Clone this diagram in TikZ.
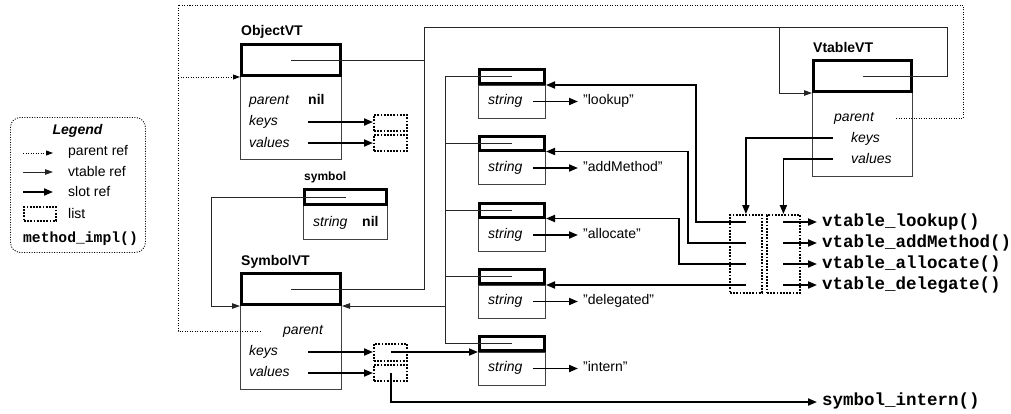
\documentclass[tikz,border=0pt]{standalone}
\usepackage{fontspec}
\setmainfont{Liberation Sans}
\setmonofont{Liberation Mono}
\usetikzlibrary{arrows.meta}
\begin{document}
\begin{tikzpicture}[x=1pt,y=-1pt,
  hdr/.style={draw, line width=3pt, anchor=north west, inner sep=0pt},
  bodybox/.style={draw=black!75, line width=0.9pt, anchor=north west, inner sep=0pt},
  lst/.style={draw, dash pattern=on 1.8pt off 1.4pt, line width=1.8pt, anchor=north west, inner sep=0pt},
  txt/.style={inner sep=0pt, anchor=base west, font=\fontsize{14}{16}\selectfont},
  itx/.style={txt, font=\fontsize{14}{16}\selectfont\itshape},
  bfx/.style={txt, font=\fontsize{14}{16}\selectfont\bfseries},
  mono/.style={inner sep=0pt, anchor=base west, font=\fontsize{17.5}{20}\selectfont\ttfamily\bfseries},
  pline/.style={line width=0.9pt, dash pattern=on 1pt off 1.5pt},
  pref/.style={pline, -{Triangle[length=7pt,width=5pt]}},
  vline/.style={line width=0.9pt, draw=black!85},
  vref/.style={vline, -{Triangle[length=8pt,width=5.5pt]}},
  sref/.style={line width=1.8pt, -{Triangle[length=9pt,width=7pt]}}
]
\useasboundingbox (0,0) rectangle (1011,413);

% ---------- Legend ----------
\node[draw, pline, rounded corners=10pt, anchor=north west, inner sep=0pt,
      minimum width=135, minimum height=135] (legend) at (10,117) {};
\node[inner sep=0pt, anchor=base, font=\fontsize{14}{16}\selectfont\bfseries\itshape] (lgt) at (77.5,134.5) {Legend};
\coordinate (lg1a) at (23,153); \coordinate (lg1b) at (53,153);
\coordinate (lg2a) at (23,172); \coordinate (lg2b) at (53,172);
\coordinate (lg3a) at (23,192); \coordinate (lg3b) at (53,192);
\draw[pref] (lg1a) -- (lg1b);
\draw[vref] (lg2a) -- (lg2b);
\draw[sref] (lg3a) -- (lg3b);
\node[lst, minimum width=32, minimum height=14] (lgl) at (23,206) {};
\node[txt] (lgp) at (68,155.5) {parent ref};
\node[txt] (lgv) at (68,176) {vtable ref};
\node[txt] (lgs) at (68,196) {slot ref};
\node[txt] (lgls) at (68,218.3) {list};
\node[inner sep=0pt, anchor=base, font=\fontsize{14.7}{16}\selectfont\ttfamily\bfseries] (lgm) at (80.5,242.5) {method\_impl()};

% ---------- ObjectVT ----------
\node[bfx] (ovt) at (241,35) {ObjectVT};
\node[bodybox, minimum width=101, minimum height=83] (ovb) at (240,76) {};
\node[hdr, minimum width=99, minimum height=31] (ovh) at (240,43) {};
\node[itx] (ovp) at (249,104.5) {parent};
\node[bfx] (ovn) at (308,104.5) {nil};
\node[itx] (ovk) at (249,125.5) {keys};
\node[itx] (ovv) at (249,147) {values};
\node[lst, minimum width=33, minimum height=16] (olk) at (373,114) {};
\node[lst, minimum width=33, minimum height=16] (olv) at (373,134) {};

% ---------- symbol ----------
\node[inner sep=0pt, anchor=base west, font=\fontsize{12}{14}\selectfont\bfseries] (yt) at (304,180.5) {symbol};
\node[bodybox, minimum width=84, minimum height=34] (yb) at (303,205) {};
\node[hdr, minimum width=82, minimum height=15] (yh) at (303,188) {};
\node[itx] (ys) at (313,226) {string};
\node[bfx] (yn) at (362,226) {nil};

% ---------- SymbolVT ----------
\node[bfx] (svt) at (241,265.5) {SymbolVT};
\node[bodybox, minimum width=101, minimum height=84] (svb) at (240,305) {};
\node[hdr, minimum width=99, minimum height=31] (svh) at (240,272) {};
\node[itx] (svp) at (283,334) {parent};
\node[itx] (svk) at (249,355) {keys};
\node[itx] (svv) at (249,376) {values};
\node[lst, minimum width=33, minimum height=17] (slk) at (373,343) {};
\node[lst, minimum width=33, minimum height=16] (slv) at (373,364) {};

% ---------- VtableVT ----------
\node[bfx] (vvt) at (813,52.5) {VtableVT};
\node[bodybox, minimum width=100, minimum height=84] (vvb) at (812,92) {};
\node[hdr, minimum width=98, minimum height=31] (vvh) at (812,59) {};
\node[itx] (vvp) at (834,121) {parent};
\node[itx] (vvk) at (851,142) {keys};
\node[itx] (vvv) at (851,163.5) {values};

% ---------- string objects ----------
\foreach \i/\t/\lbl in {1/68/lookup, 2/134.5/addMethod, 3/201.5/allocate, 4/268/delegated, 5/335/intern}{
  \node[bodybox, minimum width=67, minimum height=33] (sb\i) at (478,\t+16.5) {};
  \node[hdr, minimum width=65, minimum height=14] (sh\i) at (478,\t) {};
  \node[itx] (ss\i) at (488,\t+36.5) {string};
  \node[txt] (sq\i) at (583,\t+36.5) {"\lbl"};
  \coordinate (sa\i) at (533,\t+33.5);
  \draw[sref] (sa\i) -- (sa\i -| sq\i.west) [shorten >=5pt];
}

% ---------- vtable lists ----------
\node[lst, minimum width=32, minimum height=78] (vl) at (729,214) {};
\node[lst, minimum width=33, minimum height=78] (vr) at (766,214) {};

% ---------- method names ----------
\node[mono] (m1) at (822,226) {vtable\_lookup()};
\node[mono] (m2) at (822,247) {vtable\_addMethod()};
\node[mono] (m3) at (822,268) {vtable\_allocate()};
\node[mono] (m4) at (822,289) {vtable\_delegate()};
\node[mono] (mi) at (822,405.5) {symbol\_intern()};

% ---------- parent refs ----------
\coordinate (svpar) at (262,331);
\coordinate (vvpar) at (896,118);
\coordinate (ptop) at (178,5);
\draw[pline] (vvpar) -| (963,5) -| (178,331) -- (svpar);
\draw[pref] (ovh.south west -| ptop) -- (ovh.south west);

% ---------- vtable refs ----------
\coordinate (vbus) at (424,27);
\coordinate (vdrop) at (779,27);
\draw[vline] (vvh.center) -| (947,27) -| (424,289) -- (svh.center);
\draw[vline] (ovh.center) -- (ovh.center -| vbus);
\draw[vref] (vdrop) |- (vvh.south west);

\coordinate (sbus) at (445,306);
\foreach \i in {1,...,5}{ \draw[vline] (sh\i.center) -- (sh\i.center -| sbus); }
\draw[vline] (sh1.center -| sbus) -- (sh5.center -| sbus);
\draw[vref] (sbus) -- (svh.south east);
\coordinate (ybus) at (211,306);
\draw[vref] (yh.center) -| (ybus) -- (svh.south west);

% ---------- slot refs ----------
\coordinate (ok) at (308,122); \coordinate (ov) at (308,143);
\draw[sref] (ok) -- (ok -| olk.west);
\draw[sref] (ov) -- (ov -| olv.west);
\coordinate (sk) at (308,352); \coordinate (sv) at (308,373);
\draw[sref] (sk) -- (sk -| slk.west);
\draw[sref] (sv) -- (sv -| slv.west);
\coordinate (ski) at (391,352);
\draw[sref] (ski) -- (ski -| sh5.south west);
\coordinate (svi) at (391,373);
\coordinate (sie) at (822,402);
\draw[sref, shorten >=5pt] (svi) |- (sie);

\coordinate (vk) at (833,138); \coordinate (vv) at (833,159);
\draw[sref] (vk) -| (vl.north);
\draw[sref] (vv) -| (vr.north);

\coordinate (k1) at (696,222);
\coordinate (k2) at (688,243);
\coordinate (k3) at (679,264);
\coordinate (k4) at (746,285);
\draw[sref] (vl.center |- k1) -- (k1) |- (sh1.south east);
\draw[sref] (vl.center |- k2) -- (k2) |- (sh2.south east);
\draw[sref] (vl.center |- k3) -- (k3) |- (sh3.south east);
\draw[sref] (k4) -- (k4 -| sh4.south east);

\draw[sref, shorten >=5pt] (vr.center |- k1) -- (k1 -| m1.west);
\draw[sref, shorten >=5pt] (vr.center |- k2) -- (k2 -| m2.west);
\draw[sref, shorten >=5pt] (vr.center |- k3) -- (k3 -| m3.west);
\draw[sref, shorten >=5pt] (vr.center |- k4) -- (k4 -| m4.west);
\end{tikzpicture}
\end{document}
